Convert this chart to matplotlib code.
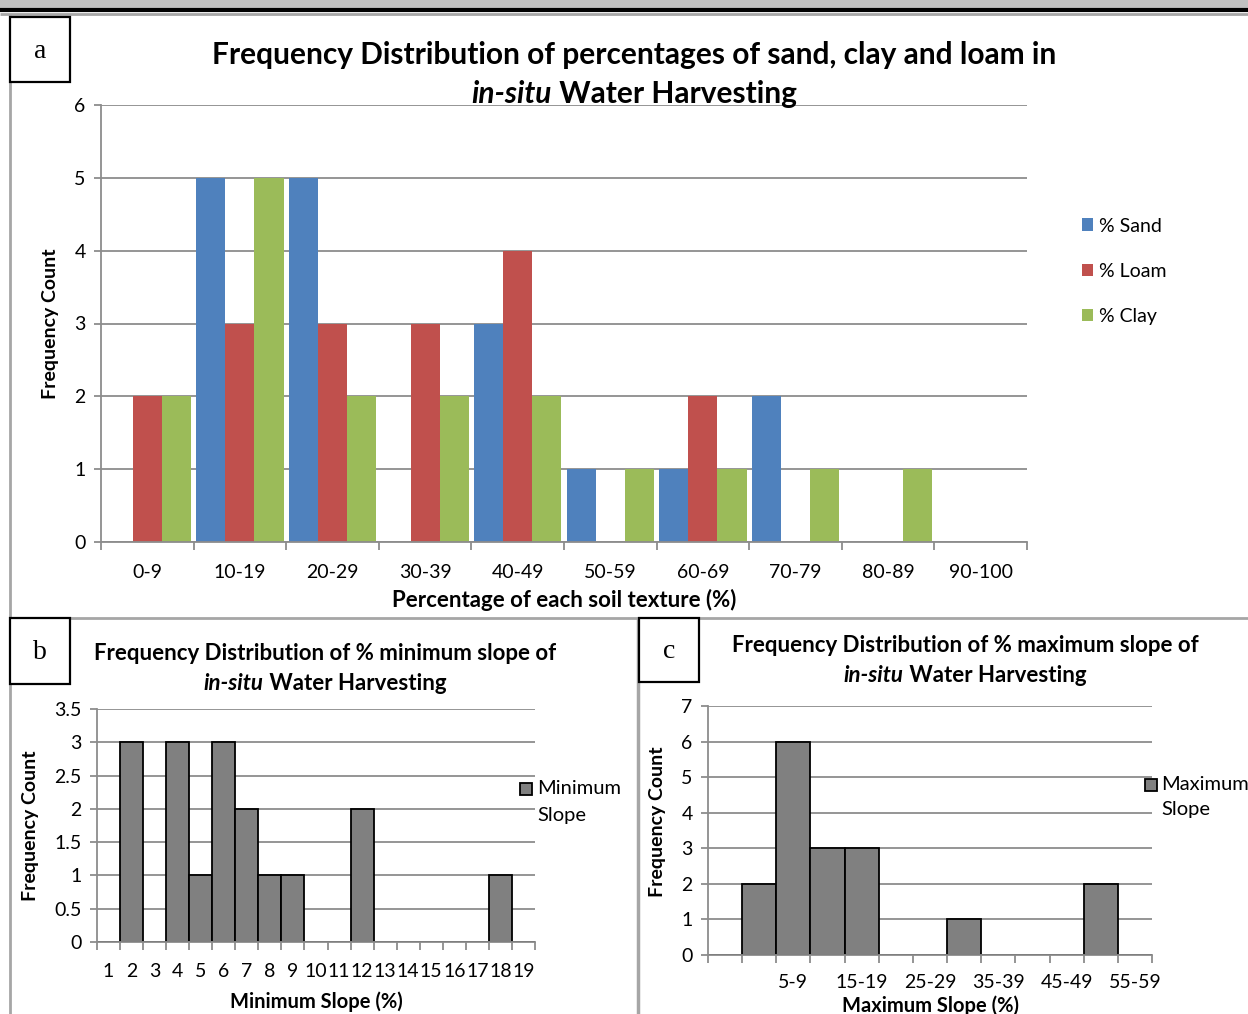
"""
Frequency distributions of soil texture and slope for in-situ water harvesting
"""

import matplotlib
matplotlib.use("Agg")
import matplotlib.pyplot as plt
import matplotlib.patches as patches
from matplotlib.lines import Line2D
import numpy as np

W, H = 1248, 1014
plt.rcParams['font.family'] = ['Lato', 'DejaVu Sans']

# Panel a - soil texture
texture_bins = ["0-9", "10-19", "20-29", "30-39", "40-49",
                "50-59", "60-69", "70-79", "80-89", "90-100"]
sand = [0, 5, 5, 0, 3, 1, 1, 2, 0, 0]
loam = [2, 3, 3, 3, 4, 0, 2, 0, 0, 0]
clay = [2, 5, 2, 2, 2, 1, 1, 1, 1, 0]

# Panel b - minimum slope
min_slope_bins = ["1", "2", "3", "4", "5", "6", "7", "8", "9", "10",
                  "11", "12", "13", "14", "15", "16", "17", "18", "19"]
min_slope_count = [0, 3, 0, 3, 1, 3, 2, 1, 1, 0, 0, 2, 0, 0, 0, 0, 0, 1, 0]

# Panel c - maximum slope
max_slope_bins = ["", "0-4", "5-9", "10-14", "15-19", "20-24", "25-29",
                  "30-34", "35-39", "40-44", "45-49", "50-54", "55-59"]
max_slope_count = [0, 2, 6, 3, 3, 0, 0, 1, 0, 0, 0, 2, 0]

COR_SAND = "#4F81BD"
COR_LOAM = "#C0504D"
COR_CLAY = "#9BBB59"
COR_HIST = "#808080"
GRID = "#8C8C8C"
FRAME = "#A6A6A6"

fig = plt.figure(figsize=(W / 100, H / 100), dpi=100)
fig.patch.set_facecolor("white")


def fx(x):
    return x / W


def fy(y):
    return 1 - y / H


def axes_px(l, t, r, b):
    return fig.add_axes([l / W, 1 - b / H, (r - l) / W, (b - t) / H])


def hline(x0, x1, y, color, lw):
    fig.add_artist(Line2D([fx(x0), fx(x1)], [fy(y), fy(y)], color=color, lw=lw,
                          transform=fig.transFigure, solid_capstyle="butt"))


def vline(x, y0, y1, color, lw):
    fig.add_artist(Line2D([fx(x), fx(x)], [fy(y0), fy(y1)], color=color, lw=lw,
                          transform=fig.transFigure, solid_capstyle="butt"))


def box_label(x0, y0, x1, y1, letra):
    fig.add_artist(patches.Rectangle((fx(x0), fy(y1)), fx(x1) - fx(x0), fy(y0) - fy(y1),
                                     transform=fig.transFigure, facecolor="white",
                                     edgecolor="black", lw=1.6, zorder=5))
    fig.text(fx((x0 + x1) / 2), fy((y0 + y1) / 2 + 1.5), letra, family="Liberation Serif",
             fontsize=20, ha="center", va="center", zorder=6)


def title_lines(xc, y1, y2, linha1, fs):
    fig.text(fx(xc), fy(y1), linha1, fontsize=fs, fontweight="bold", ha="center", va="center")
    r = fig.canvas.get_renderer()
    t1 = fig.text(0, fy(y2), "in-situ", fontsize=fs, fontweight="bold", style="italic",
                  ha="left", va="center")
    t2 = fig.text(0, fy(y2), " Water Harvesting", fontsize=fs, fontweight="bold",
                  ha="left", va="center")
    w1 = t1.get_window_extent(r).width
    w2 = t2.get_window_extent(r).width
    x0 = xc - (w1 + w2) / 2
    t1.set_x(fx(x0))
    t2.set_x(fx(x0 + w1))


def style_axes(ax, ymax, ystep, labelsize):
    for s in ["top", "right"]:
        ax.spines[s].set_visible(False)
    for s in ["left", "bottom"]:
        ax.spines[s].set_color(GRID)
        ax.spines[s].set_linewidth(1.3)
    ax.set_ylim(0, ymax)
    yt = np.arange(0, ymax + ystep / 2, ystep)
    ax.set_yticks(yt)
    ax.set_yticklabels([f"{v:g}" for v in yt])
    ax.yaxis.grid(True, color=GRID, lw=1.3)
    ax.set_axisbelow(True)
    ax.tick_params(axis="y", length=5, width=1.3, color=GRID, labelsize=labelsize, pad=6)
    ax.tick_params(axis="x", which="major", length=0, labelsize=labelsize)
    ax.tick_params(axis="x", which="minor", length=6, width=1.3, color=GRID)
    ax.set_facecolor("none")


# Moldura da pagina
fig.add_artist(patches.Rectangle((0, fy(8)), 1, 8 / H, transform=fig.transFigure,
                                 facecolor="#C0C0C0", edgecolor="none"))
hline(0, W, 10.3, "black", 3)
hline(0, W, 13.5, FRAME, 2)
vline(10, 14, H, FRAME, 2)
hline(10, W, 618, FRAME, 2)
vline(638, 618, H, FRAME, 2.5)

# ---------------- Painel a ----------------
ax = axes_px(101, 105, 1027, 542)
n = len(texture_bins)
x = np.arange(n)
w = 0.315
ax.bar(x - w, sand, w, color=COR_SAND, label="% Sand")
ax.bar(x, loam, w, color=COR_LOAM, label="% Loam")
ax.bar(x + w, clay, w, color=COR_CLAY, label="% Clay")
ax.set_xlim(-0.5, n - 0.5)
style_axes(ax, 6, 1, 14)
ax.set_xticks(x)
ax.set_xticklabels(texture_bins)
ax.set_xticks(np.arange(n + 1) - 0.5, minor=True)
ax.tick_params(axis="x", which="major", pad=16)
ax.legend(loc="upper left", bbox_to_anchor=(fx(1064), fy(200)), bbox_transform=fig.transFigure,
          frameon=False, fontsize=14, handlelength=0.6, handleheight=0.6,
          handletextpad=0.3, labelspacing=1.45)
fig.text(fx(564), fy(600), "Percentage of each soil texture (%)", fontsize=16,
         fontweight="bold", ha="center", va="center")
fig.text(fx(51), fy(324), "Frequency Count", fontsize=14, fontweight="bold",
         rotation=90, ha="center", va="center")
title_lines(634, 55, 94, "Frequency Distribution of percentages of sand, clay and loam in", 21.5)
box_label(10, 17, 70, 82, "a")

# ---------------- Painel b ----------------
axb = axes_px(97, 709, 535, 942)
nb = len(min_slope_bins)
xb = np.arange(1, nb + 1)
axb.bar(xb, min_slope_count, 1.0, color=COR_HIST, edgecolor="black", lw=1.3)
axb.set_xlim(0.5, nb + 0.5)
style_axes(axb, 3.5, 0.5, 14)
axb.set_xticks(xb)
axb.set_xticklabels(min_slope_bins)
axb.set_xticks(np.arange(nb + 1) + 0.5, minor=True)
axb.tick_params(axis="x", which="major", pad=15)
fig.text(fx(316), fy(1002), "Minimum Slope (%)", fontsize=14.5, fontweight="bold",
         ha="center", va="center")
fig.text(fx(31), fy(826), "Frequency Count", fontsize=14, fontweight="bold",
         rotation=90, ha="center", va="center")
title_lines(325, 653, 683, "Frequency Distribution of % minimum slope of", 16)
box_label(10, 618, 70, 684, "b")
fig.add_artist(patches.Rectangle((fx(520), fy(795)), 12 / W, 12 / H, transform=fig.transFigure,
                                 facecolor=COR_HIST, edgecolor="black", lw=1.3))
fig.text(fx(537), fy(789), "Minimum", fontsize=14.5, ha="left", va="center")
fig.text(fx(537), fy(815), "Slope", fontsize=14.5, ha="left", va="center")

# ---------------- Painel c ----------------
axc = axes_px(708, 706, 1152, 955)
nc = len(max_slope_bins)
xc = np.arange(nc)
axc.bar(xc, max_slope_count, 1.0, color=COR_HIST, edgecolor="black", lw=1.3)
axc.set_xlim(-0.5, nc - 0.5)
style_axes(axc, 7, 1, 14)
axc.set_xticks(xc)
axc.set_xticklabels([b if i % 2 == 0 else "" for i, b in enumerate(max_slope_bins)])
axc.set_xticks(np.arange(nc + 1) - 0.5, minor=True)
axc.tick_params(axis="x", which="major", pad=14)
fig.text(fx(931), fy(1006), "Maximum Slope (%)", fontsize=14.5, fontweight="bold",
         ha="center", va="center")
fig.text(fx(657), fy(822), "Frequency Count", fontsize=14, fontweight="bold",
         rotation=90, ha="center", va="center")
title_lines(965, 646, 675, "Frequency Distribution of % maximum slope of", 16)
box_label(639, 618, 699, 682, "c")
fig.add_artist(patches.Rectangle((fx(1145), fy(791)), 12 / W, 12 / H, transform=fig.transFigure,
                                 facecolor=COR_HIST, edgecolor="black", lw=1.3))
fig.text(fx(1161), fy(785), "Maximum", fontsize=14.5, ha="left", va="center")
fig.text(fx(1161), fy(810), "Slope", fontsize=14.5, ha="left", va="center")

fig.savefig("out.png", dpi=100, facecolor="white")
